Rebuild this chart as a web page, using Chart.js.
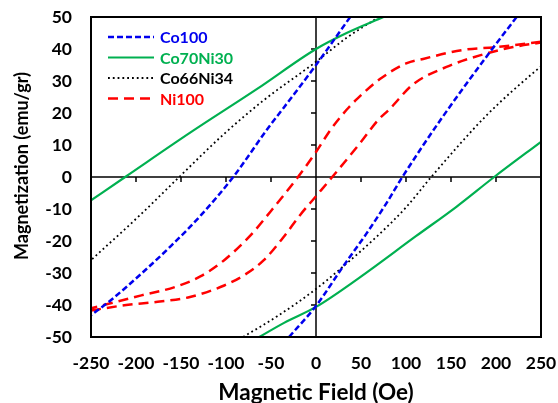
<!DOCTYPE html>
<html>
<head>
<meta charset="utf-8">
<script src="https://cdn.jsdelivr.net/npm/chart.js@4.4.1/dist/chart.umd.min.js"></script>
<style>
  html, body { margin: 0; padding: 0; background: #fff; }
  #wrap { width: 558px; height: 403px; }
</style>
</head>
<body>
<div id="wrap"><canvas id="loopChart"></canvas></div>
<script>
// Hysteresis loops, M (emu/gr) against H (Oe).
// Each branch is a list of [H, M] pairs; a branch stops where it leaves the frame.
const seriesNames = ['Co100', 'Co70Ni30', 'Co66Ni34', 'Ni100'];

const co100Upper = [[38, 50], [0, 35], [-24, 26], [-54, 15], [-92, 0], [-128, -12], [-161, -21.5], [-194, -30.2], [-228, -38.5], [-250, -43.2]];
const co100Lower = [[-30, -50], [0, -40.3], [30, -28], [56, -17.7], [78, -8.3], [96, 0], [140, 18.5], [195, 39.7], [223, 50]];

const co70Upper = [[75, 50], [34, 45], [0, 40], [-65, 27.6], [-139, 14], [-212, 0], [-250, -7.3]];
const co70Lower = [[-63, -50], [-35, -45.5], [0, -40.6], [48, -31.5], [111, -18.5], [156, -9.3], [198, 0], [250, 11]];

const co66Upper = [[70, 50], [34, 43.5], [0, 36], [-58, 24], [-102, 13.5], [-152, 0], [-194, -11.5], [-250, -26]];
const co66Lower = [[-81, -50], [-43, -43.5], [0, -35], [30, -28], [67, -18.75], [100, -9.5], [128, 0], [190, 19.4], [245, 33.4], [250, 34.5]];

const ni100Upper = [[250, 42.3], [201, 40.6], [163, 39.7], [119, 36.9], [101, 35.6], [71, 30.6], [46, 24.5], [34, 21], [16, 14.7], [0, 7.8], [-20, 0], [-50, -10.6], [-72, -18], [-102, -26], [-128, -31], [-157, -34.4], [-194, -37], [-250, -41]];
const ni100Lower = [[-250, -41.7], [-213, -40.1], [-176, -39], [-140, -37.5], [-102, -33.9], [-80, -30.7], [-58, -26], [-36, -18.75], [-18, -12], [0, -6], [18, 0], [49, 10.6], [69, 17.8], [82, 21.3], [108, 29], [145, 34.4], [182, 38], [219, 40.6], [250, 42]];

const xTicks = [-250, -200, -150, -100, -50, 0, 50, 100, 150, 200, 250];
const yTicks = [-50, -40, -30, -20, -10, 0, 10, 20, 30, 40, 50];

const FONT = "Lato, 'Open Sans', sans-serif";
const yTitle = 'Magnetization (emu/gr)';

// upper branch, a break, then lower branch, so one dataset = one legend entry
function loop(upper, lower) {
    const pts = upper.map(p => ({ x: p[0], y: p[1] }));
    pts.push({ x: upper[upper.length - 1][0], y: null });
    return pts.concat(lower.map(p => ({ x: p[0], y: p[1] })));
}

const styles = [
    { color: '#0000ee', width: 2.5, dash: [6, 3] },
    { color: '#00b050', width: 2.2, dash: [] },
    { color: '#000000', width: 1.8, dash: [1.8, 3] },
    { color: '#ff0000', width: 2.5, dash: [10, 6] }
];
const branches = [[co100Upper, co100Lower], [co70Upper, co70Lower], [co66Upper, co66Lower], [ni100Upper, ni100Lower]];

// zero axes with their tick marks, the box, legend and y title
const axesPlugin = {
    id: 'axesPlugin',
    beforeDatasetsDraw(chart) {
        const { ctx, chartArea: a, scales: { x, y } } = chart;
        const x0 = x.getPixelForValue(0), y0 = y.getPixelForValue(0);
        ctx.save();
        ctx.strokeStyle = '#000';
        ctx.lineWidth = 1.5;
        ctx.beginPath();
        ctx.moveTo(a.left, y0); ctx.lineTo(a.right, y0);
        ctx.moveTo(x0, a.top); ctx.lineTo(x0, a.bottom);
        xTicks.forEach(v => {
            const px = x.getPixelForValue(v);
            ctx.moveTo(px, y0); ctx.lineTo(px, y0 + 5);
        });
        yTicks.forEach(v => {
            const py = y.getPixelForValue(v);
            ctx.moveTo(x0, py); ctx.lineTo(x0 - 5, py);
        });
        ctx.stroke();
        ctx.restore();
    },
    afterDatasetsDraw(chart) {
        const { ctx, chartArea: a } = chart;
        ctx.save();
        ctx.strokeStyle = '#000';
        ctx.lineWidth = 2;
        ctx.strokeRect(a.left, a.top, a.right - a.left, a.bottom - a.top);

        // legend inside the plot, top left
        ctx.font = 'bold 16px ' + FONT;
        ctx.textBaseline = 'middle';
        ctx.textAlign = 'left';
        chart.data.datasets.forEach((ds, i) => {
            const ly = 37 + i * 20.5;
            ctx.strokeStyle = ds.borderColor;
            ctx.lineWidth = ds.borderWidth;
            ctx.setLineDash(ds.borderDash);
            ctx.beginPath();
            ctx.moveTo(108, ly); ctx.lineTo(154, ly);
            ctx.stroke();
            ctx.setLineDash([]);
            ctx.fillStyle = ds.borderColor;
            ctx.fillText(ds.label, 160, ly + 1);
        });

        // y title sits a bit above the middle of the axis
        ctx.translate(22, 166);
        ctx.rotate(-Math.PI / 2);
        ctx.font = 'bold 18px ' + FONT;
        ctx.textAlign = 'center';
        ctx.fillStyle = '#000';
        ctx.fillText(yTitle, 0, 0);
        ctx.restore();
    }
};

new Chart(document.getElementById('loopChart'), {
    type: 'scatter',
    data: {
        datasets: seriesNames.map((name, i) => ({
            label: name,
            data: loop(branches[i][0], branches[i][1]),
            showLine: true,
            borderColor: styles[i].color,
            borderWidth: styles[i].width,
            borderDash: styles[i].dash,
            pointRadius: 0,
            cubicInterpolationMode: 'monotone',
            spanGaps: false,
            fill: false
        }))
    },
    plugins: [axesPlugin],
    options: {
        responsive: true,
        maintainAspectRatio: false,
        animation: false,
        layout: { padding: { top: 17, right: 17, left: 0, bottom: 0 } },
        plugins: {
            legend: { display: false },
            tooltip: { enabled: false }
        },
        scales: {
            x: {
                type: 'linear',
                min: -250,
                max: 250,
                afterBuildTicks: axis => { axis.ticks = xTicks.map(v => ({ value: v })); },
                afterFit: axis => {
                    axis.height = 66;
                    axis.paddingLeft = 0;
                    axis.paddingRight = 0;
                },
                grid: { display: false, drawTicks: false },
                border: { display: false },
                ticks: {
                    padding: 16,
                    color: '#000',
                    font: { family: FONT, size: 17.5, weight: 'bold' }
                },
                title: {
                    display: true,
                    text: 'Magnetic Field (Oe)',
                    color: '#000',
                    padding: { top: 0, bottom: -1 },
                    font: { family: FONT, size: 22.5, weight: 'bold', lineHeight: 1 }
                }
            },
            y: {
                type: 'linear',
                min: -50,
                max: 50,
                afterBuildTicks: axis => { axis.ticks = yTicks.map(v => ({ value: v })); },
                afterFit: axis => {
                    axis.width = 91;
                    axis.paddingTop = 0;
                    axis.paddingBottom = 0;
                },
                grid: { display: false, drawTicks: false },
                border: { display: false },
                ticks: {
                    padding: 19,
                    color: '#000',
                    font: { family: FONT, size: 17.5, weight: 'bold' }
                },
                title: { display: false }
            }
        }
    }
});
</script>
</body>
</html>
